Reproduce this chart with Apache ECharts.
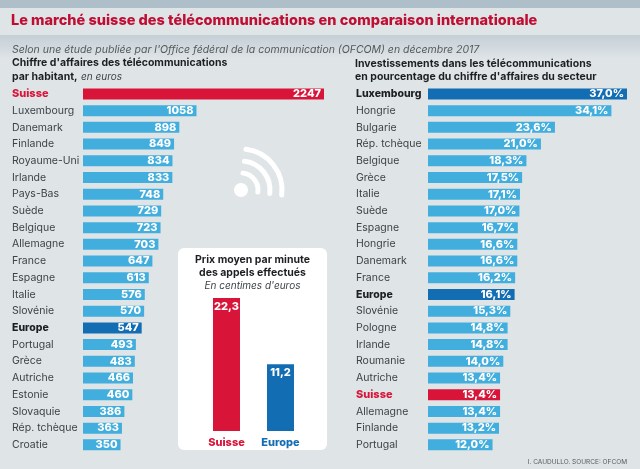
<!DOCTYPE html>
<html>
<head>
<meta charset="utf-8">
<style>html,body{margin:0;padding:0;background:#dfe4e7}#chart{width:640px;height:469px}</style>
<script src="https://cdn.jsdelivr.net/npm/echarts@6/dist/echarts.min.js"></script>
</head>
<body>
<div id="chart"></div>
<script>
// ===== Data =====
const revenueCountries = ['Suisse','Luxembourg','Danemark','Finlande','Royaume-Uni','Irlande','Pays-Bas','Suède','Belgique','Allemagne','France','Espagne','Italie','Slovénie','Europe','Portugal','Grèce','Autriche','Estonie','Slovaquie','Rép. tchèque','Croatie'];
const revenueValues = [2247,1058,898,849,834,833,748,729,723,703,647,613,576,570,547,493,483,466,460,386,363,350];
const investCountries = ['Luxembourg','Hongrie','Bulgarie','Rép. tchèque','Belgique','Grèce','Italie','Suède','Espagne','Hongrie','Danemark','France','Europe','Slovénie','Pologne','Irlande','Roumanie','Autriche','Suisse','Allemagne','Finlande','Portugal'];
const investValues = [37.0,34.1,23.6,21.0,18.3,17.5,17.1,17.0,16.7,16.6,16.6,16.2,16.1,15.3,14.8,14.8,14.0,13.4,13.4,13.4,13.2,12.0];
const priceLabels = ['Suisse','Europe'];
const priceValues = [22.3,11.2];

const RED = '#d81539', DARK = '#126db3', LIGHT = '#42aedd', INK = '#3c4346';
const FONT = 'Inter, Lato, sans-serif';

const comma = (v, d) => v.toFixed(d).replace('.', ',');

function barColor(name, strong){
  if (name === 'Suisse') return RED;
  if (name === 'Europe' || name === strong) return DARK;
  return LIGHT;
}

function labelRich(){
  return {
    red:{ color:RED, fontWeight:800, fontSize:11, fontFamily:FONT },
    bold:{ color:'#1d2022', fontWeight:800, fontSize:10.5, fontFamily:FONT },
    plain:{ color:INK, fontSize:10.5, fontFamily:FONT }
  };
}

function rankedAxis(names, idx, margin, strong){
  return {
    type:'category', gridIndex:idx, inverse:true, data:names,
    axisLine:{show:false}, axisTick:{show:false}, splitLine:{show:false},
    axisLabel:{
      interval:0, align:'left', margin:margin,
      formatter:(n)=>{
        const k = n==='Suisse' ? 'red' : (n==='Europe' || n===strong) ? 'bold' : 'plain';
        return '{'+k+'|'+n+'}';
      },
      rich:labelRich()
    }
  };
}

function rankedSeries(names, values, idx, strong, fmt){
  return {
    type:'bar', xAxisIndex:idx, yAxisIndex:idx, barWidth:11, silent:true,
    data:values.map((v,i)=>({ value:v, itemStyle:{ color:barColor(names[i], strong) } })),
    label:{ show:true, position:'insideRight', distance:3, color:'#fff', fontFamily:FONT, fontWeight:800, fontSize:11, formatter:fmt }
  };
}

const chart = echarts.init(document.getElementById('chart'), null, { renderer:'canvas' });

chart.setOption({
  animation:false,
  backgroundColor:'#dfe4e7',
  grid:[
    { left:83, top:85.6, width:241, height:367.6 },
    { left:428, top:85.6, width:199, height:367.6 },
    { left:199.5, top:298, width:108, height:133 }
  ],
  xAxis:[
    { type:'value', gridIndex:0, min:0, max:2247, show:false },
    { type:'value', gridIndex:1, min:0, max:37, show:false },
    { type:'category', gridIndex:2, data:priceLabels, axisLine:{show:false}, axisTick:{show:false},
      axisLabel:{ margin:6, interval:0, fontFamily:FONT, fontWeight:800, fontSize:11,
        color:(n)=> n==='Suisse' ? RED : DARK } }
  ],
  yAxis:[
    rankedAxis(revenueCountries, 0, 71, null),
    rankedAxis(investCountries, 1, 72, 'Luxembourg'),
    { type:'value', gridIndex:2, min:0, max:22.3, show:false }
  ],
  series:[
    rankedSeries(revenueCountries, revenueValues, 0, null, (p)=>String(p.value)),
    rankedSeries(investCountries, investValues, 1, 'Luxembourg', (p)=>comma(p.value,1)+'%'),
    { type:'bar', xAxisIndex:2, yAxisIndex:2, barWidth:27, silent:true, z:5,
      data:priceValues.map((v,i)=>({ value:v, itemStyle:{ color:priceLabels[i]==='Suisse' ? RED : DARK } })),
      label:{ show:true, position:'insideTop', distance:3, color:'#fff', fontFamily:FONT, fontWeight:800, fontSize:11,
        formatter:(p)=>comma(p.value,1) } }
  ],
  graphic:[
    // header bands
    { type:'rect', z:-10, silent:true, shape:{x:0,y:0,width:640,height:8}, style:{fill:'#aebfc9'} },
    { type:'rect', z:-9, silent:true, shape:{x:0,y:35,width:640,height:24},
      style:{fill:new echarts.graphic.LinearGradient(0,0,0,1,[{offset:0,color:'#c4cfd6'},{offset:1,color:'#dfe4e7'}])} },
    { type:'rect', z:-8, silent:true, shape:{x:0,y:8,width:640,height:27}, style:{fill:'#dfe4e7'} },
    // white card behind the small chart
    { type:'rect', z:-5, silent:true, shape:{x:178,y:248,width:149,height:202,r:6}, style:{fill:'#fff'} },
    // wifi icon
    { type:'circle', z:-5, silent:true, shape:{cx:241,cy:190,r:7}, style:{fill:'#fff'} },
    { type:'arc', z:-5, silent:true, shape:{cx:241,cy:190,r:17,startAngle:-1.45,endAngle:0.12}, style:{stroke:'#fff',lineWidth:5,lineCap:'round',fill:null} },
    { type:'arc', z:-5, silent:true, shape:{cx:241,cy:190,r:29,startAngle:-1.45,endAngle:0.12}, style:{stroke:'#fff',lineWidth:5,lineCap:'round',fill:null} },
    { type:'arc', z:-5, silent:true, shape:{cx:241,cy:190,r:41,startAngle:-1.45,endAngle:0.12}, style:{stroke:'#fff',lineWidth:5,lineCap:'round',fill:null} },
    // texts
    { type:'text', silent:true, x:11, y:21, style:{ text:'Le marché suisse des télécommunications en comparaison internationale', fill:'#c00d32', font:'800 14.5px '+FONT, textVerticalAlign:'middle' } },
    { type:'text', silent:true, x:12, y:50, style:{ text:'Selon une étude publiée par l\'Office fédéral de la communication (OFCOM) en décembre 2017', fill:'#55595c', font:'italic 10.5px '+FONT, textVerticalAlign:'middle' } },
    { type:'text', silent:true, x:12, y:63, style:{ text:'Chiffre d\'affaires des télécommunications', fill:'#1d2022', font:'700 10.5px '+FONT, textVerticalAlign:'middle' } },
    { type:'text', silent:true, x:12, y:76.5, style:{ text:'par habitant,', fill:'#1d2022', font:'700 10.5px '+FONT, textVerticalAlign:'middle' } },
    { type:'text', silent:true, x:81, y:76.5, style:{ text:'en euros', fill:'#3c4346', font:'italic 10px '+FONT, textVerticalAlign:'middle' } },
    { type:'text', silent:true, x:355, y:64, style:{ text:'Investissements dans les télécommunications', fill:'#1d2022', font:'700 10.5px '+FONT, textVerticalAlign:'middle' } },
    { type:'text', silent:true, x:355, y:77, style:{ text:'en pourcentage du chiffre d\'affaires du secteur', fill:'#1d2022', font:'700 10.5px '+FONT, textVerticalAlign:'middle' } },
    { type:'text', silent:true, x:252.5, y:260, style:{ text:'Prix moyen par minute', fill:'#1d2022', font:'700 10.5px '+FONT, textAlign:'center', textVerticalAlign:'middle' } },
    { type:'text', silent:true, x:252.5, y:272.5, style:{ text:'des appels effectués', fill:'#1d2022', font:'700 10.5px '+FONT, textAlign:'center', textVerticalAlign:'middle' } },
    { type:'text', silent:true, x:252.5, y:285.5, style:{ text:'En centimes d\'euros', fill:'#3c4346', font:'italic 10px '+FONT, textAlign:'center', textVerticalAlign:'middle' } },
    { type:'text', silent:true, x:627, y:462, style:{ text:'I. CAUDULLO. SOURCE: OFCOM', fill:'#55595c', font:'6.5px '+FONT, textAlign:'right', textVerticalAlign:'middle' } }
  ]
});
</script>
</body>
</html>
